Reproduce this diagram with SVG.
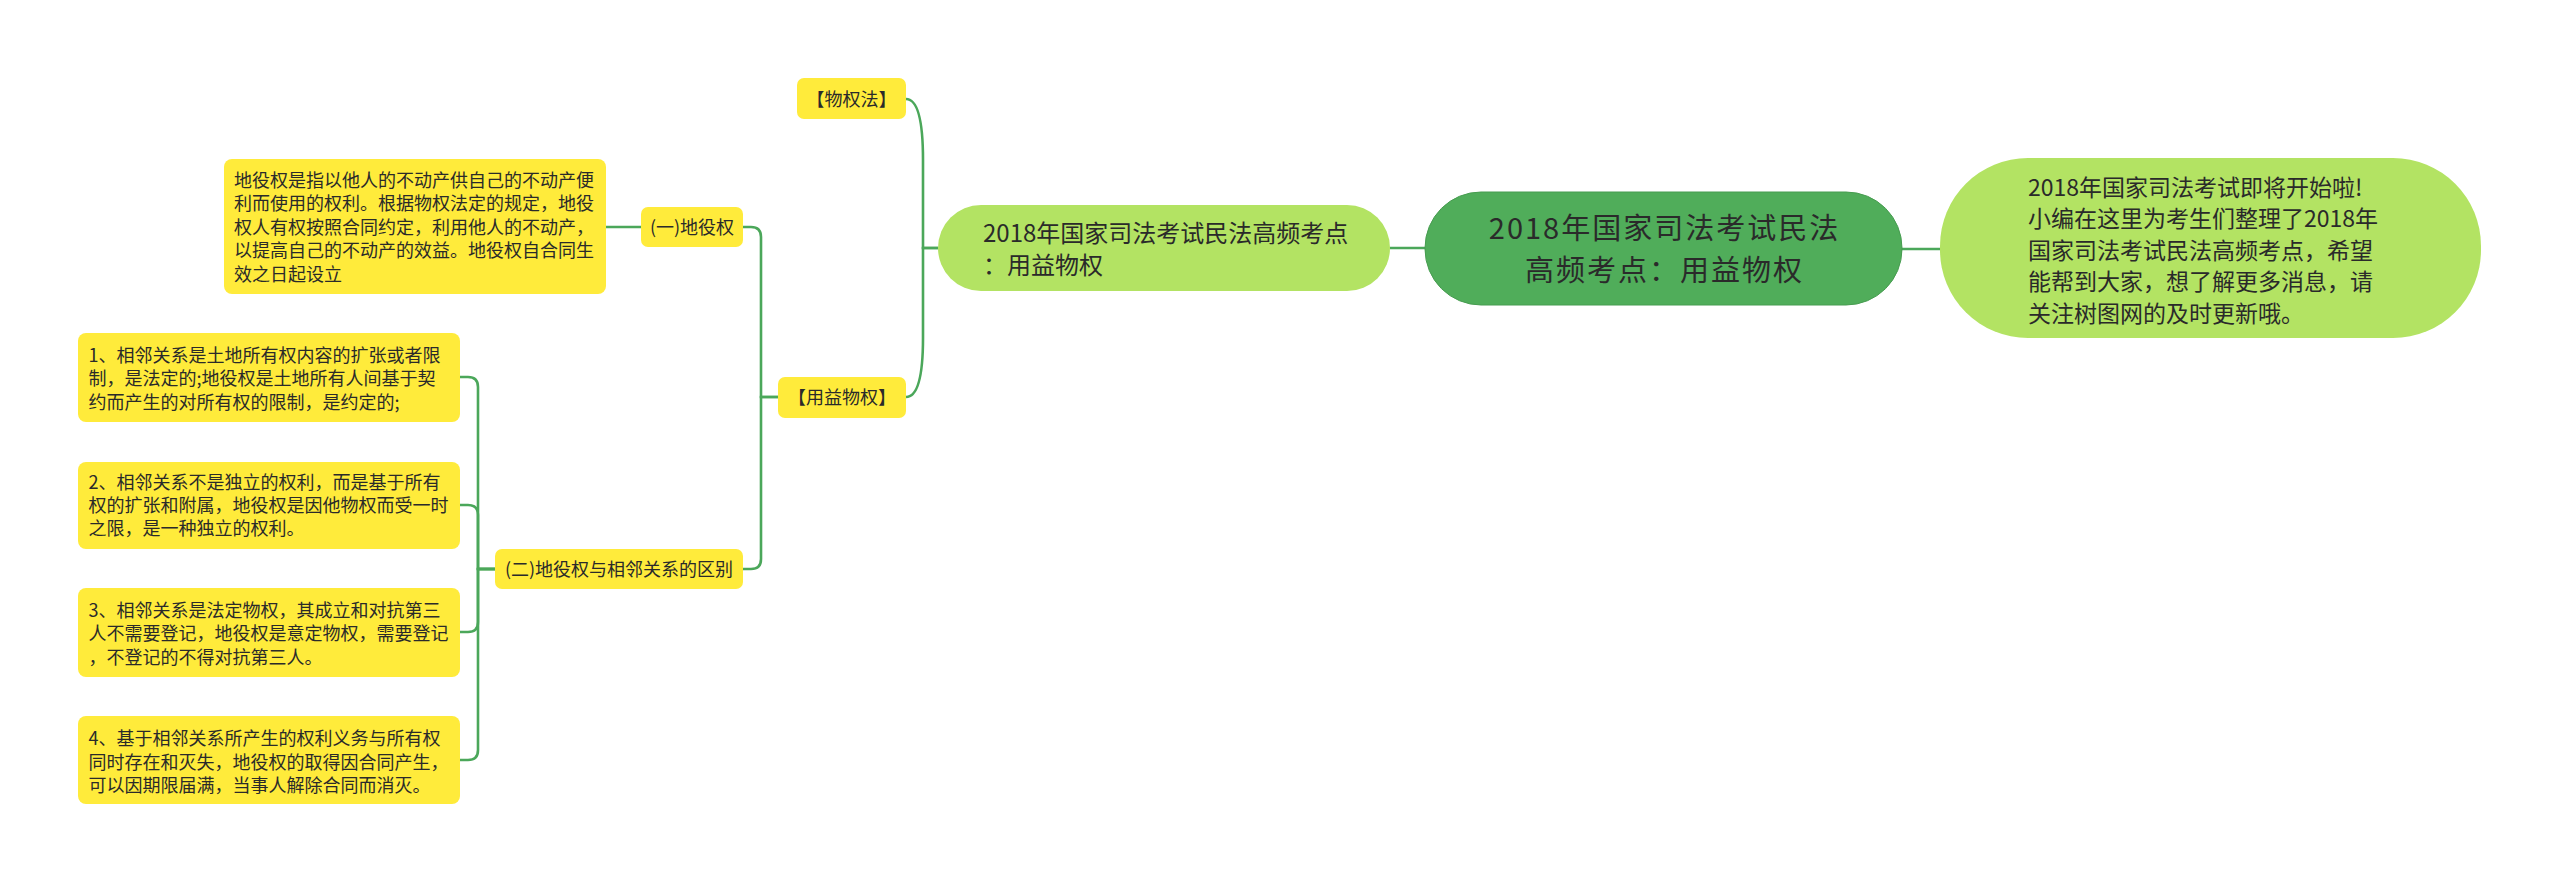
<svg xmlns="http://www.w3.org/2000/svg" width="2560" height="883" viewBox="0 0 2560 883">
<style>
text{font-family:"Noto Sans CJK SC","Noto Sans",sans-serif;fill:#2a2a2a}
.c{fill:none;stroke:#4ba75a;stroke-width:2.6}
.y{fill:#ffeb3b}
.t18{font-size:18px}
.mid{text-anchor:middle}
</style>
<rect width="2560" height="883" fill="#ffffff"/>
<g id="connectors">
<path class="c" d="M1902 249 H1940"/>
<path class="c" d="M1390 248 H1425"/>
<path class="c" d="M938 248 H923 V160 Q923 99 906 99"/>
<path class="c" d="M938 248 H923 V338 Q923 397 906 397"/>
<path class="c" d="M778 397 H761 V237 Q761 227 751 227 H743"/>
<path class="c" d="M778 397 H761 V559 Q761 569 751 569 H743"/>
<path class="c" d="M641 227 H606"/>
<path class="c" d="M495 569 H478 V387 Q478 377 468 377 H460"/>
<path class="c" d="M495 569 H478 V515 Q478 505 468 505 H460"/>
<path class="c" d="M495 569 H478 V622 Q478 632 468 632 H460"/>
<path class="c" d="M495 569 H478 V750 Q478 760 468 760 H460"/>
</g>
<g id="root">
<rect x="1425" y="192" width="477" height="113" rx="56" fill="#50ad5a" stroke="#479c50" stroke-width="1"/>
<text class="mid" font-size="29" letter-spacing="2"><tspan x="1664.5" y="238.5">2018年国家司法考试民法</tspan><tspan x="1664.5" y="280.5">高频考点：用益物权</tspan></text>
</g>
<g id="desc">
<rect x="1940" y="158" width="541" height="180" rx="88" fill="#b3e363"/>
<text font-size="23"><tspan x="2028" y="195.5">2018年国家司法考试即将开始啦!</tspan><tspan x="2028" y="227">小编在这里为考生们整理了2018年</tspan><tspan x="2028" y="258.5">国家司法考试民法高频考点，希望</tspan><tspan x="2028" y="290">能帮到大家，想了解更多消息，请</tspan><tspan x="2028" y="321.5">关注树图网的及时更新哦。</tspan></text>
</g>
<g id="topic">
<rect x="938" y="205" width="452" height="86" rx="43" fill="#b3e363"/>
<text font-size="24"><tspan x="983" y="242">2018年国家司法考试民法高频考点</tspan><tspan x="983" y="273.5">：用益物权</tspan></text>
</g>
<g id="wuquanfa">
<rect class="y" x="797" y="78" width="109" height="41" rx="7"/>
<text class="t18 mid" x="851.5" y="105.5">【物权法】</text>
</g>
<g id="yongyiwuquan">
<rect class="y" x="778" y="377" width="128" height="41" rx="7"/>
<text class="t18 mid" x="842" y="403.5">【用益物权】</text>
</g>
<g id="diyiquan">
<rect class="y" x="641" y="207" width="102" height="40" rx="7"/>
<text class="t18 mid" x="692" y="233.5">(一)地役权</text>
</g>
<g id="diyiquan-def">
<rect class="y" x="224" y="159" width="382" height="135" rx="8"/>
<text class="t18"><tspan x="234" y="186.8">地役权是指以他人的不动产供自己的不动产便</tspan><tspan x="234" y="210.3">利而使用的权利。根据物权法定的规定，地役</tspan><tspan x="234" y="233.8">权人有权按照合同约定，利用他人的不动产，</tspan><tspan x="234" y="257.3">以提高自己的不动产的效益。地役权自合同生</tspan><tspan x="234" y="280.8">效之日起设立</tspan></text>
</g>
<g id="qubie">
<rect class="y" x="495" y="549" width="248" height="40" rx="7"/>
<text class="t18 mid" x="619" y="575.5">(二)地役权与相邻关系的区别</text>
</g>
<g id="item1">
<rect class="y" x="78" y="333" width="382" height="89" rx="8"/>
<text class="t18"><tspan x="88.5" y="361.8">1、相邻关系是土地所有权内容的扩张或者限</tspan><tspan x="88.5" y="385.1">制，是法定的;地役权是土地所有人间基于契</tspan><tspan x="88.5" y="408.5">约而产生的对所有权的限制，是约定的;</tspan></text>
</g>
<g id="item2">
<rect class="y" x="78" y="462" width="382" height="87" rx="8"/>
<text class="t18"><tspan x="88.5" y="488.5">2、相邻关系不是独立的权利，而是基于所有</tspan><tspan x="88.5" y="511.8">权的扩张和附属，地役权是因他物权而受一时</tspan><tspan x="88.5" y="535.1">之限，是一种独立的权利。</tspan></text>
</g>
<g id="item3">
<rect class="y" x="78" y="588" width="382" height="89" rx="8"/>
<text class="t18"><tspan x="88.5" y="616.8">3、相邻关系是法定物权，其成立和对抗第三</tspan><tspan x="88.5" y="640.1">人不需要登记，地役权是意定物权，需要登记</tspan><tspan x="88.5" y="663.5">，不登记的不得对抗第三人。</tspan></text>
</g>
<g id="item4">
<rect class="y" x="78" y="716" width="382" height="88" rx="8"/>
<text class="t18"><tspan x="88.5" y="745.1">4、基于相邻关系所产生的权利义务与所有权</tspan><tspan x="88.5" y="768.5">同时存在和灭失，地役权的取得因合同产生，</tspan><tspan x="88.5" y="791.8">可以因期限届满，当事人解除合同而消灭。</tspan></text>
</g>
</svg>
